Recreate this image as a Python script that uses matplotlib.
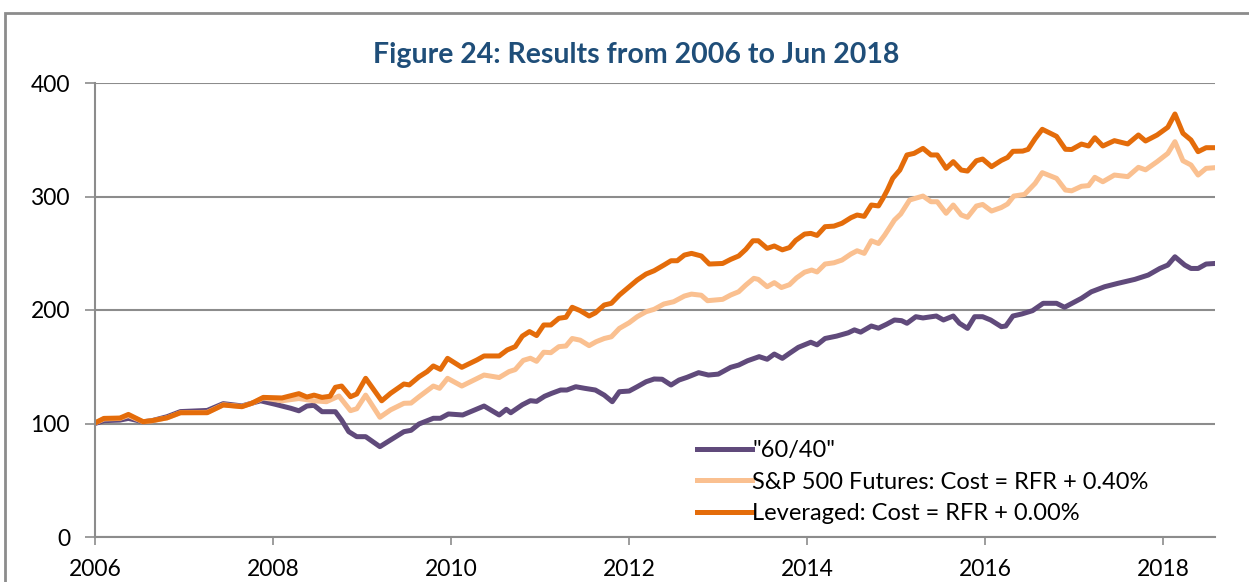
import matplotlib
matplotlib.use("Agg")
import matplotlib.pyplot as plt
from matplotlib.patches import Rectangle

plt.rcParams['font.family'] = ['Lato', 'DejaVu Sans']

# ---- data (fractional year, index level) ----
years_6040 = [2006.00, 2006.10, 2006.28, 2006.375, 2006.54, 2006.64, 2006.81, 2006.96, 2007.26, 2007.44,
              2007.65, 2007.86, 2008.02, 2008.20, 2008.29, 2008.38, 2008.46, 2008.55, 2008.70, 2008.77,
              2008.85, 2008.94, 2009.04, 2009.20, 2009.32, 2009.47, 2009.55, 2009.64, 2009.80, 2009.88,
              2009.97, 2010.13, 2010.37, 2010.54, 2010.62, 2010.67, 2010.80, 2010.89, 2010.96, 2011.05,
              2011.13, 2011.23, 2011.30, 2011.40, 2011.50, 2011.62, 2011.72, 2011.81, 2011.89, 2012.00,
              2012.09, 2012.19, 2012.28, 2012.37, 2012.47, 2012.56, 2012.65, 2012.78, 2012.89, 2013.00,
              2013.14, 2013.23, 2013.33, 2013.46, 2013.55, 2013.63, 2013.72, 2013.80, 2013.90, 2014.04,
              2014.11, 2014.20, 2014.33, 2014.46, 2014.53, 2014.60, 2014.72, 2014.80, 2014.89, 2014.98,
              2015.06, 2015.12, 2015.22, 2015.30, 2015.45, 2015.53, 2015.64, 2015.71, 2015.80, 2015.88,
              2015.97, 2016.06, 2016.18, 2016.23, 2016.31, 2016.41, 2016.53, 2016.65, 2016.80, 2016.89,
              2017.08, 2017.19, 2017.34, 2017.49, 2017.68, 2017.83, 2017.96, 2018.05, 2018.13, 2018.24,
              2018.31, 2018.39, 2018.48, 2018.58]
vals_6040 = [100, 102.5, 103, 104.5, 101.5, 102.5, 106, 110.5, 111.5, 117.5,
             115.5, 120, 117, 113.4, 111.2, 115.4, 116, 110.4, 110.4, 103,
             92.8, 88.4, 88.4, 79.6, 85.5, 92.8, 94, 99.6, 104.6, 104.6,
             108.4, 107.5, 115.4, 107.5, 112.5, 109.5, 116.5, 120.1, 119.5, 124,
             126.6, 129.5, 129.5, 132.4, 131, 129.5, 125, 119.2, 128, 128.6,
             132.4, 136.8, 139.2, 139, 133.9, 138.3, 140.7, 144.8, 142.7, 143.5,
             149.5, 151.5, 155.3, 158.9, 156.6, 161.2, 157.4, 161.8, 167.1, 171.6,
             169.3, 174.9, 177, 179.9, 182.5, 180.5, 185.9, 184, 187.4, 191.2,
             190.6, 188.3, 194.1, 193, 194.7, 191.2, 194.7, 188.3, 183.8, 194.1,
             194.1, 191.2, 185.3, 185.9, 194.7, 196.5, 199.4, 205.9, 205.9, 202.4,
             210.3, 216, 220.5, 223.5, 227, 230.8, 236.6, 239.6, 246.9, 239.6,
             236.6, 236.6, 240.5, 241]

years_spx = [2006.00, 2006.10, 2006.28, 2006.375, 2006.54, 2006.64, 2006.81, 2006.96, 2007.26, 2007.44,
             2007.65, 2007.76, 2007.89, 2008.10, 2008.29, 2008.46, 2008.60, 2008.74, 2008.87, 2008.94,
             2009.04, 2009.20, 2009.32, 2009.47, 2009.55, 2009.64, 2009.80, 2009.87, 2009.96, 2010.12,
             2010.37, 2010.54, 2010.65, 2010.72, 2010.81, 2010.89, 2010.96, 2011.04, 2011.12, 2011.21,
             2011.29, 2011.36, 2011.45, 2011.55, 2011.63, 2011.72, 2011.80, 2011.89, 2012.00, 2012.09,
             2012.19, 2012.28, 2012.39, 2012.50, 2012.62, 2012.70, 2012.81, 2012.88, 2013.05, 2013.14,
             2013.23, 2013.31, 2013.40, 2013.45, 2013.55, 2013.63, 2013.71, 2013.80, 2013.88, 2013.97,
             2014.05, 2014.11, 2014.20, 2014.30, 2014.39, 2014.49, 2014.56, 2014.64, 2014.72, 2014.80,
             2014.87, 2014.98, 2015.05, 2015.15, 2015.30, 2015.39, 2015.46, 2015.56, 2015.64, 2015.73,
             2015.80, 2015.90, 2015.97, 2016.07, 2016.18, 2016.25, 2016.32, 2016.44, 2016.56, 2016.64,
             2016.80, 2016.90, 2016.97, 2017.08, 2017.16, 2017.23, 2017.32, 2017.45, 2017.60, 2017.72,
             2017.80, 2017.93, 2018.05, 2018.13, 2018.22, 2018.31, 2018.39, 2018.48, 2018.58]
vals_spx = [100.5, 104, 104.5, 107, 101.5, 102.3, 105, 109.5, 109.8, 116.5,
            115, 117.8, 122.5, 120, 122, 120, 119.2, 124.2, 111.3, 113,
            125, 105.5, 112, 117.8, 118, 123.6, 133, 131, 139.8, 133,
            142.7, 140.5, 145.7, 147.5, 155.6, 157.5, 154.8, 162.8, 162.4, 167.7,
            168.3, 174.9, 173.4, 168.6, 172.1, 174.9, 176.4, 183.8, 188.8, 194.1,
            198.5, 200.6, 205.3, 207.3, 212.3, 214, 213, 208.2, 209.4, 213.2,
            216.1, 222, 227.9, 227, 220.5, 224.1, 219.8, 222.3, 228.3, 233.3,
            235.2, 233.5, 240.5, 241.6, 244, 249.3, 252.2, 249.9, 261, 258.6,
            266, 279.3, 284.6, 296.9, 300.4, 295.4, 295.4, 285.2, 292.5, 283.7,
            281.7, 291.6, 293, 287.2, 290.3, 293.4, 300.4, 301.8, 311.6, 321,
            316, 305.7, 305, 309, 309.6, 316.9, 313, 318.9, 317.5, 325.7,
            323.5, 330.7, 338, 348.3, 331.5, 327.8, 318.9, 324.8, 325.4]

years_lev = [2006.00, 2006.10, 2006.28, 2006.375, 2006.54, 2006.64, 2006.81, 2006.96, 2007.26, 2007.44,
             2007.65, 2007.76, 2007.89, 2008.10, 2008.29, 2008.38, 2008.46, 2008.55, 2008.64, 2008.70,
             2008.77, 2008.87, 2008.94, 2009.04, 2009.22, 2009.32, 2009.47, 2009.53, 2009.64, 2009.73,
             2009.80, 2009.88, 2009.96, 2010.12, 2010.29, 2010.37, 2010.54, 2010.63, 2010.72, 2010.80,
             2010.88, 2010.96, 2011.04, 2011.12, 2011.21, 2011.29, 2011.36, 2011.45, 2011.55, 2011.62,
             2011.72, 2011.80, 2011.89, 2012.00, 2012.09, 2012.19, 2012.28, 2012.39, 2012.47, 2012.54,
             2012.62, 2012.70, 2012.81, 2012.90, 2013.05, 2013.14, 2013.23, 2013.31, 2013.39, 2013.45,
             2013.55, 2013.63, 2013.72, 2013.80, 2013.87, 2013.97, 2014.04, 2014.11, 2014.20, 2014.30,
             2014.39, 2014.49, 2014.56, 2014.64, 2014.72, 2014.80, 2014.85, 2014.90, 2014.96, 2015.04,
             2015.12, 2015.20, 2015.30, 2015.39, 2015.46, 2015.56, 2015.64, 2015.73, 2015.80, 2015.90,
             2015.97, 2016.07, 2016.18, 2016.25, 2016.31, 2016.42, 2016.48, 2016.56, 2016.64, 2016.80,
             2016.90, 2016.97, 2017.08, 2017.16, 2017.23, 2017.32, 2017.45, 2017.60, 2017.72, 2017.80,
             2017.93, 2018.05, 2018.13, 2018.22, 2018.31, 2018.39, 2018.48, 2018.58]
vals_lev = [100.5, 104.5, 104.8, 108, 101.6, 102.5, 105, 109.5, 109.5, 116.3,
            114.8, 117.8, 123, 122.5, 126.3, 123.3, 125, 123, 124, 131.9,
            133, 123.6, 126, 139.8, 120, 126.6, 134.8, 134, 141.2, 145.7,
            150.7, 147.7, 157.4, 149.5, 156, 159.5, 159.5, 164.8, 167.7, 177,
            181, 177.5, 186.8, 186.8, 192.7, 193.6, 202.4, 199.4, 194.7, 197.5,
            204.4, 205.9, 213.2, 220.5, 226.4, 231.7, 234.6, 239.6, 243.4, 243.4,
            248.4, 249.9, 247.6, 240.5, 241, 244.6, 247.6, 253.4, 261, 261,
            254.3, 256.4, 253, 255, 261.3, 266.9, 267.5, 265.7, 273.4, 273.9,
            276.4, 281.3, 283.7, 282.5, 292.5, 291.7, 298.3, 305.7, 316, 323.3,
            336.6, 338, 342.4, 336.6, 336.6, 324.8, 330.7, 323.3, 322.4, 331.5,
            333, 326.3, 331.8, 334.4, 339.8, 340, 341.5, 351, 359.2, 353,
            341.6, 341.4, 346.2, 344.5, 351.8, 344.5, 349.2, 346.3, 354.2, 348.9,
            354.2, 361, 372.7, 355.7, 349.8, 339.5, 343, 343]

labels = ['"60/40"', 'S&P 500 Futures: Cost = RFR + 0.40%', 'Leveraged: Cost = RFR + 0.00%']
colors = ['#604A7B', '#FAC090', '#E46C0A']
xticks = [2006, 2008, 2010, 2012, 2014, 2016, 2018]
yticks = [0, 100, 200, 300, 400]

fig = plt.figure(figsize=(12.49, 5.82), dpi=100)
ax = fig.add_axes([95/1249, 1 - 537/582, 1120/1249, 454/582])

ax.plot(years_6040, vals_6040, color=colors[0], lw=3.6, label=labels[0], solid_joinstyle='round')
ax.plot(years_spx, vals_spx, color=colors[1], lw=3.6, label=labels[1], solid_joinstyle='round')
ax.plot(years_lev, vals_lev, color=colors[2], lw=3.6, label=labels[2], solid_joinstyle='round')

ax.set_xlim(2006, 2018.58)
ax.set_ylim(0, 400)
ax.set_xticks(xticks)
ax.set_yticks(yticks)
ax.grid(axis='y', color='#8C8C8C', lw=1.5)
ax.set_axisbelow(True)
for s in ['top', 'right']:
    ax.spines[s].set_visible(False)
for s in ['left', 'bottom']:
    ax.spines[s].set_color('#8C8C8C')
    ax.spines[s].set_linewidth(1.5)
ax.tick_params(axis='x', length=6, width=1.2, color='#8C8C8C', pad=10, labelsize=16.5)
ax.tick_params(axis='y', length=7, width=1.2, color='#8C8C8C', pad=11, labelsize=16.5)

leg = ax.legend(loc='lower left', bbox_to_anchor=(0.527, 0.002), frameon=False, fontsize=17,
                handlelength=2.33, handletextpad=0.0, labelspacing=0.45, borderpad=0)

fig.text(636/1249, 1 - 55/582, 'Figure 24: Results from 2006 to Jun 2018', ha='center', va='center',
         fontsize=20.5, fontweight='bold', color='#1F4E79')

# outer chart frame
fig.patches.append(Rectangle((5/1249, -0.1), 1.2, 0.1 + 1 - 13/582, transform=fig.transFigure,
                             fill=False, edgecolor='#8C8C8C', lw=2))

fig.savefig('out.png', dpi=100)
